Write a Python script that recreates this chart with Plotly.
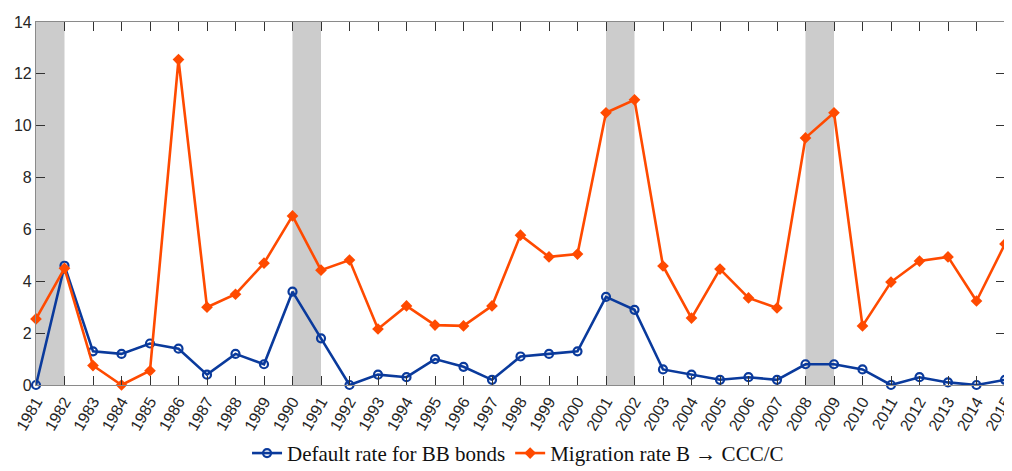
import plotly.graph_objects as go

years = list(range(1981, 2016))
default_bb = [0.0, 4.6, 1.3, 1.2, 1.6, 1.4, 0.4, 1.2, 0.8, 3.6, 1.8, 0.0, 0.4, 0.3, 1.0, 0.7, 0.2,
              1.1, 1.2, 1.3, 3.4, 2.9, 0.6, 0.4, 0.2, 0.3, 0.2, 0.8, 0.8, 0.6, 0.0, 0.3, 0.1, 0.0, 0.2]
migration = [2.55, 4.5, 0.75, 0.0, 0.55, 12.55, 3.0, 3.5, 4.7, 6.52, 4.43, 4.82, 2.16, 3.05, 2.31, 2.28,
             3.05, 5.78, 4.94, 5.05, 10.5, 11.0, 4.59, 2.58, 4.47, 3.36, 2.97, 9.53, 10.5, 2.28,
             3.97, 4.78, 4.94, 3.24, 5.44]
recessions = [(1981, 1982), (1990, 1991), (2001, 2002), (2008, 2009)]
yticks = [0, 2, 4, 6, 8, 10, 12, 14]

blue = "#0a3a9c"
orange = "#ff4a00"

fig = go.Figure()
fig.add_trace(go.Scatter(
    x=years, y=default_bb, mode="lines+markers", name="Default rate for BB bonds",
    line=dict(color=blue, width=2.6),
    marker=dict(symbol="circle-open", size=8, color=blue, line=dict(width=2.2, color=blue)),
    cliponaxis=False,
))
fig.add_trace(go.Scatter(
    x=years, y=migration, mode="lines+markers", name="Migration rate B \u2192 CCC/C",
    line=dict(color=orange, width=2.6),
    marker=dict(symbol="diamond", size=9, color=orange),
    cliponaxis=False,
))

for a, b in recessions:
    fig.add_shape(type="rect", xref="x", yref="y", x0=a, x1=b, y0=0, y1=14,
                  fillcolor="#cccccc", line=dict(width=0), layer="below")

axis_common = dict(
    showline=True, linecolor="#8a8a8a", linewidth=1.2, mirror="ticks",
    ticks="inside", ticklen=9, tickcolor="#333333", tickwidth=1,
    showgrid=False, zeroline=False, automargin=False,
    tickfont=dict(family="Liberation Sans", size=16, color="#262626"),
)

fig.update_xaxes(range=[1981, 2015], tickmode="array", tickvals=years,
                 ticktext=[str(y) for y in years], tickangle=-60,
                 ticklabeloverflow="allow", **axis_common)
fig.update_yaxes(range=[0, 14], tickmode="array", tickvals=yticks,
                 ticktext=[str(v) for v in yticks], **axis_common)

# page body has an 8px default margin: compensate so the plot area lands where the reference has it
fig.update_layout(
    width=1004, height=463,
    margin=dict(l=28, r=7, t=14, b=86),
    plot_bgcolor="white", paper_bgcolor="white",
    showlegend=True,
    legend=dict(orientation="h", xref="container", yref="container",
                x=0.508, xanchor="center", y=0.038, yanchor="middle",
                font=dict(family="Liberation Serif", size=21, color="#111111"),
                itemwidth=30, tracegroupgap=0, bgcolor="rgba(0,0,0,0)"),
)

fig.write_html("out.html")
